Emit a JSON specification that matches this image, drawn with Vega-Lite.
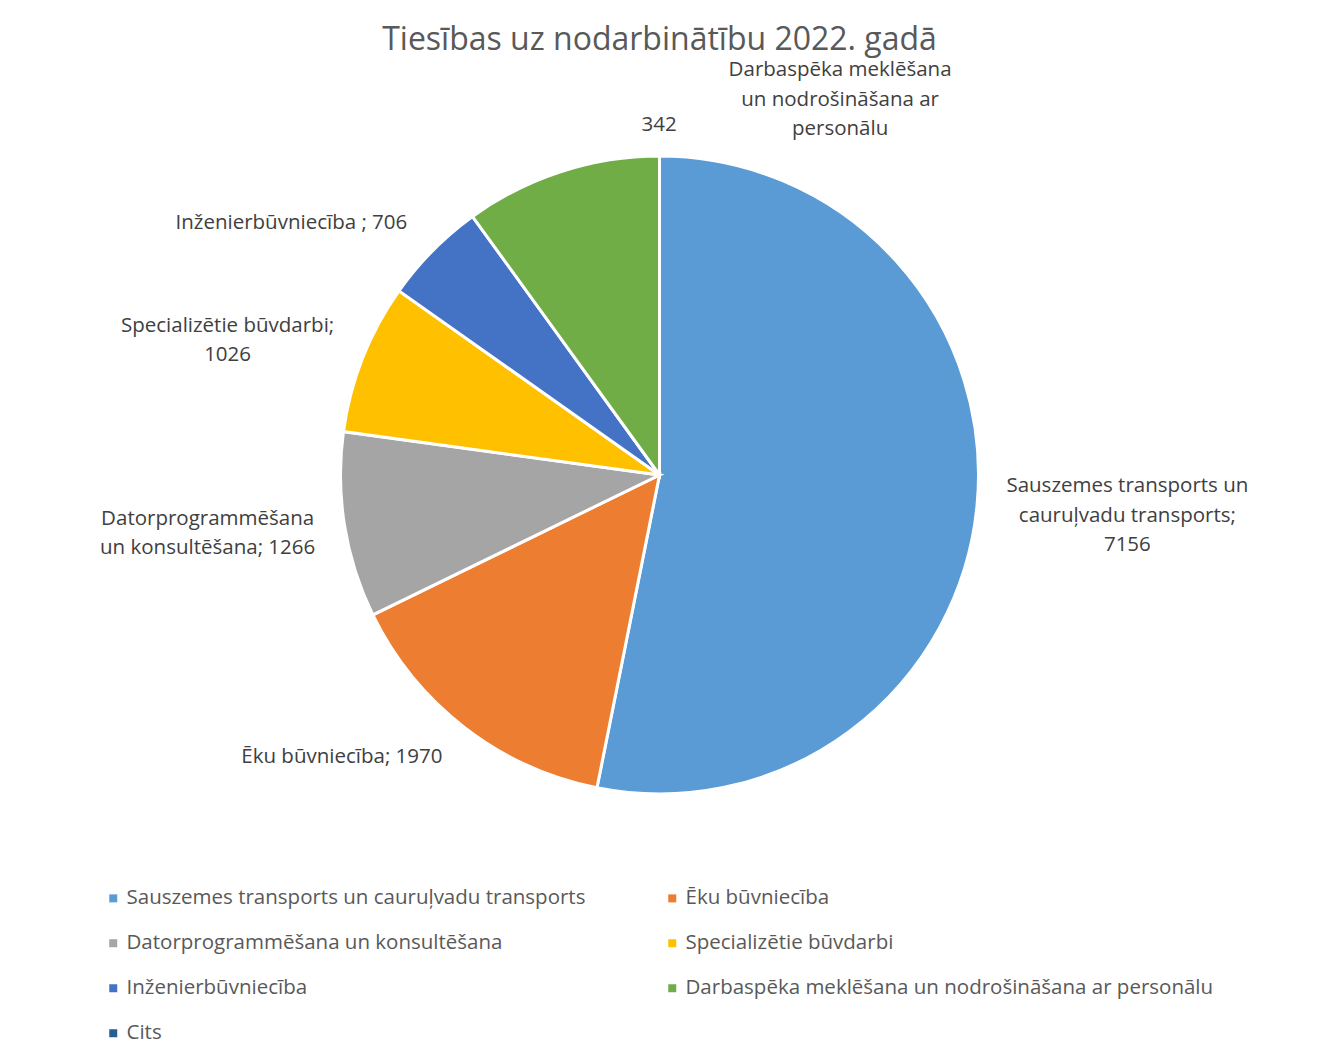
{
  "$schema": "https://vega.github.io/schema/vega-lite/v6.json",
  "width": 1315,
  "height": 830,
  "autosize": {"type": "none"},
  "padding": {"left": 2, "top": 60, "right": 0, "bottom": 169},
  "background": "white",
  "title": {"text": "Tiesības uz nodarbinātību 2022. gadā", "font": "Open Sans", "fontSize": 32, "fontWeight": "normal", "color": "#595959", "anchor": "middle", "offset": 0, "dy": 34},
  "data": {"values": [
    {"idx": 1, "name": "Sauszemes transports un cauruļvadu transports", "value": 7156, "label": "Sauszemes transports un\ncauruļvadu transports;\n7156", "extra": ""},
    {"idx": 2, "name": "Ēku būvniecība", "value": 1970, "label": "Ēku būvniecība; 1970", "extra": ""},
    {"idx": 3, "name": "Datorprogrammēšana un konsultēšana", "value": 1266, "label": "Datorprogrammēšana\nun konsultēšana; 1266", "extra": ""},
    {"idx": 4, "name": "Specializētie būvdarbi", "value": 1026, "label": "Specializētie būvdarbi;\n1026", "extra": ""},
    {"idx": 5, "name": "Inženierbūvniecība", "value": 706, "label": "Inženierbūvniecība ; 706", "extra": ""},
    {"idx": 6, "name": "Darbaspēka meklēšana un nodrošināšana ar personālu", "value": 1342, "label": "Darbaspēka meklēšana\nun nodrošināšana ar\npersonālu", "extra": "342"}
  ]},
  "encoding": {
    "theta": {"field": "value", "type": "quantitative", "stack": true},
    "order": {"field": "idx", "type": "quantitative"}
  },
  "layer": [
    {
      "mark": {"type": "arc", "outerRadius": 319, "stroke": "white", "strokeWidth": 3},
      "encoding": {
        "color": {
          "field": "name", "type": "nominal",
          "sort": ["Sauszemes transports un cauruļvadu transports", "Ēku būvniecība", "Datorprogrammēšana un konsultēšana", "Specializētie būvdarbi", "Inženierbūvniecība", "Darbaspēka meklēšana un nodrošināšana ar personālu", "Cits"],
          "scale": {
            "domain": ["Sauszemes transports un cauruļvadu transports", "Ēku būvniecība", "Datorprogrammēšana un konsultēšana", "Specializētie būvdarbi", "Inženierbūvniecība", "Darbaspēka meklēšana un nodrošināšana ar personālu", "Cits"],
            "range": ["#5B9BD5", "#ED7D31", "#A5A5A5", "#FFC000", "#4472C4", "#70AD47", "#255E91"]
          },
          "legend": {
            "orient": "none", "legendX": 101, "legendY": 828, "columns": 2, "direction": "horizontal",
            "title": null, "symbolType": "square", "symbolSize": 64, "symbolStrokeWidth": 0,
            "labelFont": "Open Sans", "labelFontSize": 20.5, "labelColor": "#595959", "labelOffset": 3,
            "labelLimit": 700, "rowPadding": 24, "columnPadding": 76, "padding": 0
          }
        }
      }
    },
    {
      "mark": {"type": "text", "radius": 468, "thetaOffset": -0.075, "font": "Open Sans", "fontSize": 20.5, "color": "#404040", "lineBreak": "\n", "lineHeight": 29.5, "align": "center", "baseline": "middle"},
      "encoding": {"text": {"condition": {"test": "datum.idx === 1", "field": "label"}, "value": ""}}
    },
    {
      "mark": {"type": "text", "radius": 425, "thetaOffset": 0.187, "font": "Open Sans", "fontSize": 20.5, "color": "#404040", "lineBreak": "\n", "lineHeight": 29.5, "align": "center", "baseline": "middle"},
      "encoding": {"text": {"condition": {"test": "datum.idx === 2", "field": "label"}, "value": ""}}
    },
    {
      "mark": {"type": "text", "radius": 454, "thetaOffset": 0.062, "font": "Open Sans", "fontSize": 20.5, "color": "#404040", "lineBreak": "\n", "lineHeight": 29.5, "align": "center", "baseline": "middle"},
      "encoding": {"text": {"condition": {"test": "datum.idx === 3", "field": "label"}, "value": ""}}
    },
    {
      "mark": {"type": "text", "radius": 457, "thetaOffset": -0.043, "font": "Open Sans", "fontSize": 20.5, "color": "#404040", "lineBreak": "\n", "lineHeight": 29.5, "align": "center", "baseline": "middle"},
      "encoding": {"text": {"condition": {"test": "datum.idx === 4", "field": "label"}, "value": ""}}
    },
    {
      "mark": {"type": "text", "radius": 446, "thetaOffset": -0.18, "font": "Open Sans", "fontSize": 20.5, "color": "#404040", "lineBreak": "\n", "lineHeight": 29.5, "align": "center", "baseline": "middle"},
      "encoding": {"text": {"condition": {"test": "datum.idx === 5", "field": "label"}, "value": ""}}
    },
    {
      "mark": {"type": "text", "radius": 443, "thetaOffset": 0.733, "font": "Open Sans", "fontSize": 20.5, "color": "#404040", "lineBreak": "\n", "lineHeight": 29.5, "align": "center", "baseline": "middle"},
      "encoding": {"text": {"condition": {"test": "datum.idx === 6", "field": "label"}, "value": ""}}
    },
    {
      "mark": {"type": "text", "radius": 350, "thetaOffset": 0.312, "font": "Open Sans", "fontSize": 20.5, "color": "#404040", "align": "center", "baseline": "middle"},
      "encoding": {"text": {"condition": {"test": "datum.idx === 6", "field": "extra"}, "value": ""}}
    }
  ],
  "config": {"view": {"stroke": null}}
}
